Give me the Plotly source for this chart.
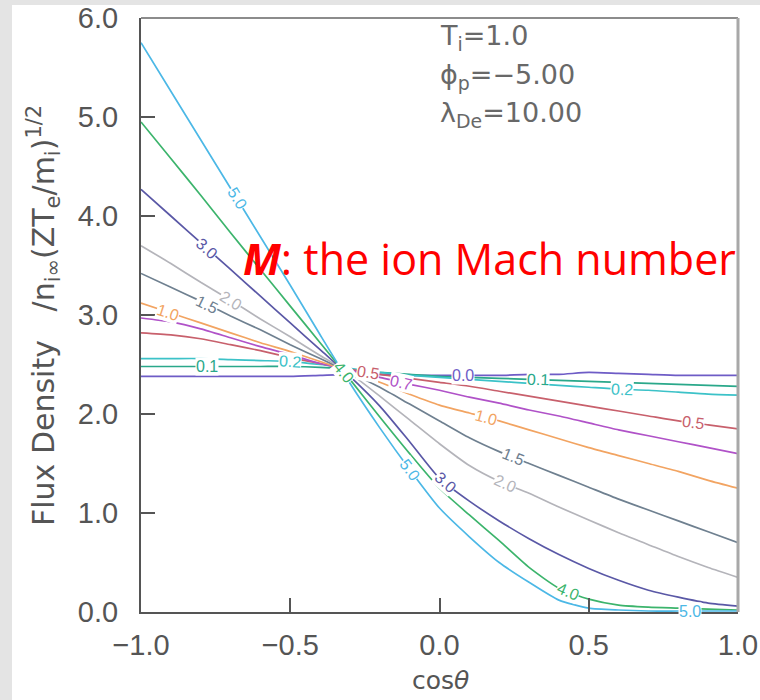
import math
import numpy as np
import plotly.graph_objects as go

# ---------------- data ----------------
COS_THETA = [-1.0, -0.9, -0.8, -0.7, -0.6, -0.5, -0.4, -0.3, -0.2, -0.1, 0.0,
             0.1, 0.2, 0.3, 0.4, 0.5, 0.6, 0.7, 0.8, 0.9, 1.0]

MACH = ["0.0", "0.1", "0.2", "0.5", "0.7", "1.0", "1.5", "2.0", "3.0", "4.0", "5.0"]

FLUX_M00 = [2.38, 2.38, 2.38, 2.38, 2.38, 2.38, 2.39, 2.40, 2.40, 2.39, 2.39,
            2.39, 2.39, 2.40, 2.40, 2.42, 2.41, 2.40, 2.39, 2.39, 2.39]
FLUX_M01 = [2.48, 2.48, 2.48, 2.48, 2.48, 2.48, 2.47, 2.45, 2.42, 2.40, 2.38,
            2.37, 2.36, 2.35, 2.34, 2.33, 2.32, 2.31, 2.30, 2.29, 2.28]
FLUX_M02 = [2.56, 2.56, 2.56, 2.55, 2.54, 2.53, 2.50, 2.46, 2.42, 2.39, 2.37,
            2.35, 2.33, 2.31, 2.29, 2.27, 2.25, 2.24, 2.22, 2.20, 2.19]
FLUX_M05 = [2.82, 2.80, 2.76, 2.70, 2.64, 2.57, 2.51, 2.45, 2.40, 2.36, 2.32,
            2.28, 2.23, 2.18, 2.13, 2.08, 2.03, 1.98, 1.93, 1.89, 1.85]
FLUX_M07 = [2.97, 2.93, 2.86, 2.77, 2.68, 2.60, 2.51, 2.44, 2.37, 2.30, 2.24,
            2.17, 2.11, 2.04, 1.98, 1.91, 1.84, 1.78, 1.72, 1.66, 1.60]
FLUX_M10 = [3.12, 3.02, 2.92, 2.82, 2.72, 2.63, 2.53, 2.43, 2.32, 2.20, 2.09,
            2.01, 1.93, 1.84, 1.75, 1.66, 1.58, 1.50, 1.42, 1.33, 1.25]
FLUX_M15 = [3.42, 3.28, 3.14, 2.99, 2.85, 2.70, 2.56, 2.42, 2.27, 2.10, 1.93,
            1.76, 1.62, 1.50, 1.38, 1.26, 1.14, 1.03, 0.92, 0.81, 0.70]
FLUX_M20 = [3.70, 3.52, 3.33, 3.15, 2.96, 2.78, 2.59, 2.41, 2.18, 1.94, 1.70,
            1.48, 1.32, 1.20, 1.06, 0.93, 0.80, 0.68, 0.56, 0.45, 0.35]
FLUX_M30 = [4.27, 4.00, 3.73, 3.46, 3.19, 2.92, 2.65, 2.38, 2.08, 1.72, 1.35,
            1.12, 0.92, 0.74, 0.58, 0.44, 0.32, 0.22, 0.15, 0.09, 0.06]
FLUX_M40 = [4.95, 4.58, 4.21, 3.83, 3.46, 3.09, 2.72, 2.35, 1.97, 1.60, 1.25,
            0.98, 0.72, 0.45, 0.24, 0.13, 0.07, 0.05, 0.04, 0.03, 0.02]
FLUX_M50 = [5.75, 5.26, 4.77, 4.28, 3.79, 3.30, 2.80, 2.31, 1.86, 1.44, 1.05,
            0.76, 0.50, 0.30, 0.12, 0.04, 0.02, 0.01, 0.01, 0.01, 0.01]

# curve labels: (mach, cos-theta where the label sits)
CURVE_LABELS = [("5.0", -0.68), ("5.0", -0.10), ("5.0", 0.84), ("4.0", -0.32),
                ("4.0", 0.43), ("3.0", -0.78), ("3.0", 0.02), ("2.0", -0.70),
                ("2.0", 0.22), ("1.5", -0.78), ("1.5", 0.245), ("1.0", -0.91),
                ("1.0", 0.155), ("0.7", -0.13), ("0.5", -0.24), ("0.5", 0.85),
                ("0.2", -0.50), ("0.2", 0.61), ("0.1", -0.78), ("0.1", 0.33),
                ("0.0", 0.08)]

X_TICKS = [-1.0, -0.5, 0.0, 0.5, 1.0]
X_TICKTEXT = ["\u22121.0", "\u22120.5", "0.0", "0.5", "1.0"]
Y_TICKS = [0, 1, 2, 3, 4, 5, 6]
Y_TICKTEXT = ["0.0", "1.0", "2.0", "3.0", "4.0", "5.0", "6.0"]

PARAMS = ["T<sub>i</sub>=1.0", "\u03d5<sub>p</sub>=\u22125.00", "\u03bb<sub>De</sub>=10.00"]

# ---------------- styling ----------------
FLUX = dict(zip(MACH, [FLUX_M00, FLUX_M01, FLUX_M02, FLUX_M05, FLUX_M07, FLUX_M10,
                       FLUX_M15, FLUX_M20, FLUX_M30, FLUX_M40, FLUX_M50]))
COLORS = {"0.0": "#6e5cc6", "0.1": "#2aa88a", "0.2": "#3cc2c8", "0.5": "#c8606c",
          "0.7": "#b052c8", "1.0": "#f2a462", "1.5": "#6f8090", "2.0": "#b4b4ba",
          "3.0": "#5a58a6", "4.0": "#3cb46c", "5.0": "#4cb8e6"}

L, R, T, B = 141, 22, 18, 88
W, H = 760, 700
PW, PH = W - L - R, H - T - B
XR, YR = (-1.0, 1.0), (0.0, 6.0)
PX_PER_X = PW / (XR[1] - XR[0])
PX_PER_Y = PH / (YR[1] - YR[0])


def py_to_paper(py):
    return (H - B - py) / PH


def px_to_paper(px):
    return (px - L) / PW


fig = go.Figure()
for m in MACH:
    fig.add_trace(go.Scatter(x=COS_THETA, y=FLUX[m], mode="lines",
                             line=dict(color=COLORS[m], width=1.7, shape="spline", smoothing=0.6),
                             showlegend=False, hoverinfo="skip"))

xs = np.array(COS_THETA)
for m, xl in CURVE_LABELS:
    ys = np.array(FLUX[m])
    yl = float(np.interp(xl, xs, ys))
    slope = float(np.interp(xl, (xs[1:] + xs[:-1]) / 2, np.diff(ys) / np.diff(xs)))
    ang = math.degrees(math.atan(-slope * PX_PER_Y / PX_PER_X))
    fig.add_annotation(x=xl, y=yl, xref="x", yref="y", text=m, showarrow=False,
                       textangle=ang, bgcolor="white", borderpad=0,
                       font=dict(family="Liberation Sans", size=16, color=COLORS[m]))

# parameter text
PARAM_PY = [37, 76, 114]
for t, p in zip(PARAMS, PARAM_PY):
    fig.add_annotation(x=px_to_paper(438), y=py_to_paper(p), xref="paper", yref="paper",
                       text=t, showarrow=False, xanchor="left", yanchor="middle",
                       font=dict(family="DejaVu Sans", size=27, color="#686868"))

# red note
fig.add_annotation(x=px_to_paper(241), y=py_to_paper(258), xref="paper", yref="paper",
                   text="<b><i>M</i></b>: the ion Mach number", showarrow=False,
                   xanchor="left", yanchor="middle",
                   font=dict(family="Open Sans", size=43, color="#ff0000"))

# y-axis title
fig.add_annotation(x=px_to_paper(43), y=py_to_paper(316), xref="paper", yref="paper",
                   text=("Flux Density\u00a0\u00a0\u00a0/n<sub>i\u221e</sub>"
                         "(ZT<sub>e</sub>/m<sub>i</sub>)<sup>1/2</sup>"),
                   showarrow=False, textangle=-90, xanchor="center", yanchor="middle",
                   font=dict(family="DejaVu Sans", size=30, color="#555555"))
# x-axis title
fig.add_annotation(x=px_to_paper(440), y=py_to_paper(680), xref="paper", yref="paper",
                   text="cos<i>\u03b8</i>", showarrow=False, xanchor="center", yanchor="middle",
                   font=dict(family="DejaVu Sans", size=25, color="#555555"))

# background: grey frame with white card
fig.add_shape(type="rect", xref="paper", yref="paper", layer="below",
              x0=px_to_paper(12), x1=px_to_paper(W + 5), y0=py_to_paper(H + 5), y1=py_to_paper(5),
              fillcolor="white", line=dict(width=0))
# top and right frame lines
fig.add_shape(type="line", xref="paper", yref="paper", x0=0, x1=1, y0=1, y1=1,
              line=dict(color="#666666", width=1.5))
fig.add_shape(type="line", xref="paper", yref="paper", x0=1, x1=1, y0=0, y1=1,
              line=dict(color="#a8a8a8", width=3))

axis_common = dict(showgrid=False, zeroline=False, showline=True, linecolor="#555555",
                   linewidth=2, ticks="inside", ticklen=14, tickwidth=1.5, tickcolor="#555555",
                   automargin=False,
                   tickfont=dict(family="Liberation Sans", size=29, color="#555555"))
fig.update_xaxes(range=list(XR), tickvals=X_TICKS, ticktext=X_TICKTEXT,
                 ticklabelstandoff=6, **axis_common)
fig.update_yaxes(range=list(YR), tickvals=Y_TICKS, ticktext=Y_TICKTEXT,
                 ticklabelstandoff=15, **axis_common)

fig.update_layout(width=W, height=H, margin=dict(l=L, r=R, t=T, b=B, autoexpand=False),
                  paper_bgcolor="#e4e4e4", plot_bgcolor="white")

fig.write_html("out.html")
